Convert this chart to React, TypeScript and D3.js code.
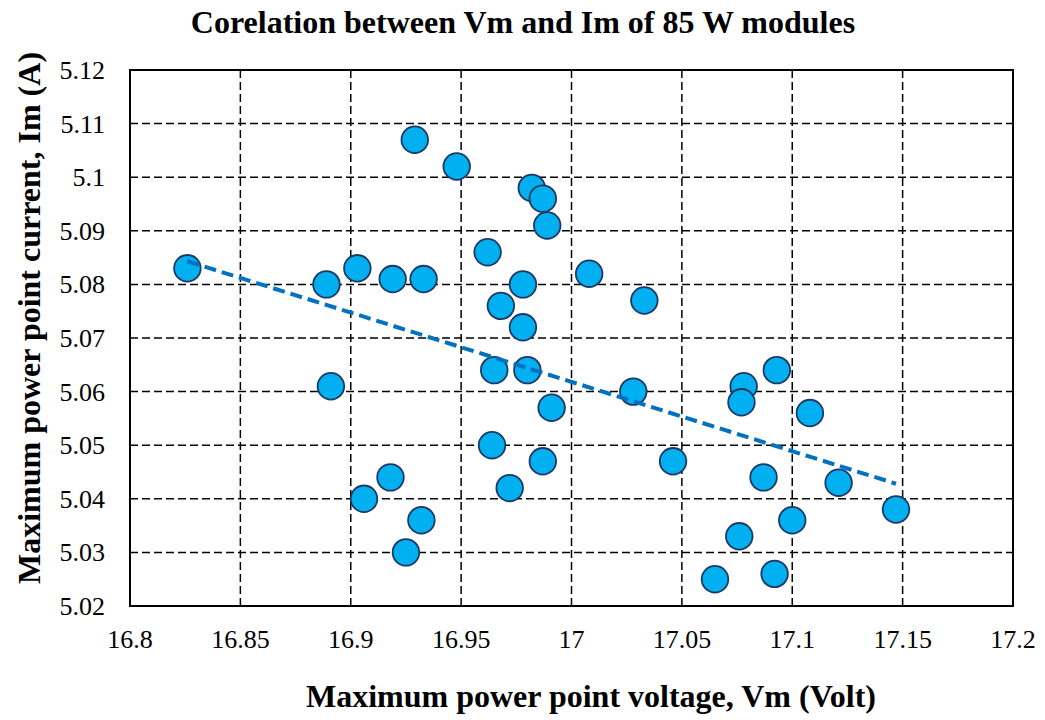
import React from "react";
import * as d3 from "d3";

// Maximum power point voltage (V) and current (A) for each module
const vm: number[] = [
  16.826, 16.889, 16.891, 16.903, 16.919, 16.933, 16.929, 16.948, 16.906, 16.918,
  16.932, 16.925, 16.962, 16.968, 16.978, 16.978, 16.965, 16.98, 16.982, 16.987,
  16.989, 16.991, 16.964, 16.972, 16.987, 17.008, 17.033, 17.028, 17.046, 17.078,
  17.077, 17.093, 17.108, 17.087, 17.121, 17.147, 17.1, 17.076, 17.065, 17.092,
];
const im: number[] = [
  5.083, 5.08, 5.061, 5.083, 5.081, 5.081, 5.107, 5.102, 5.04, 5.044,
  5.036, 5.03, 5.086, 5.076, 5.08, 5.072, 5.064, 5.064, 5.098, 5.096,
  5.091, 5.057, 5.05, 5.042, 5.047, 5.082, 5.077, 5.06, 5.047, 5.061,
  5.058, 5.064, 5.056, 5.044, 5.043, 5.038, 5.036, 5.033, 5.025, 5.026,
];
const xTicks: number[] = [16.8, 16.85, 16.9, 16.95, 17, 17.05, 17.1, 17.15, 17.2];
const yTicks: number[] = [5.02, 5.03, 5.04, 5.05, 5.06, 5.07, 5.08, 5.09, 5.1, 5.11, 5.12];

const W = 1045;
const H = 720;
const M = { left: 130, right: 1013, top: 70, bottom: 606 };
const FONT = "'Liberation Serif', 'Times New Roman', serif";

export default function App() {
  const x = d3.scaleLinear().domain([16.8, 17.2]).range([M.left, M.right]);
  const y = d3.scaleLinear().domain([5.02, 5.12]).range([M.bottom, M.top]);

  const pts = vm.map((v, i) => ({ v, i: im[i] }));

  // least-squares linear trend
  const mx = d3.mean(vm) as number;
  const my = d3.mean(im) as number;
  let sxy = 0;
  let sxx = 0;
  pts.forEach((p) => {
    sxy += (p.v - mx) * (p.i - my);
    sxx += (p.v - mx) * (p.v - mx);
  });
  const slope = sxy / sxx;
  const icpt = my - slope * mx;
  const [x0, x1] = d3.extent(vm) as [number, number];
  const trend = d3.line<number>()
    .x((d) => x(d))
    .y((d) => y(icpt + slope * d))([x0, x1]) as string;

  return (
    <svg
      width={W}
      height={H}
      style={{ position: "absolute", left: 0, top: 0, background: "#fff" }}
      fontFamily={FONT}
    >
      <text x={523} y={33} textAnchor="middle" fontSize={32} fontWeight="bold">
        Corelation between Vm and Im of 85 W modules
      </text>

      {/* grid */}
      {xTicks.slice(1, -1).map((t) => (
        <line key={"gx" + t} x1={x(t)} x2={x(t)} y1={M.top} y2={M.bottom}
          stroke="#000" strokeWidth={1.5} strokeDasharray="8 4" />
      ))}
      {yTicks.slice(1, -1).map((t) => (
        <line key={"gy" + t} x1={M.left} x2={M.right} y1={y(t)} y2={y(t)}
          stroke="#000" strokeWidth={1.5} strokeDasharray="8 4" />
      ))}

      {/* frame */}
      <rect x={M.left} y={M.top} width={M.right - M.left} height={M.bottom - M.top}
        fill="none" stroke="#000" strokeWidth={2} />

      {/* tick labels */}
      {xTicks.map((t) => (
        <text key={"tx" + t} x={x(t)} y={648} textAnchor="middle" fontSize={26}>
          {d3.format("")(t)}
        </text>
      ))}
      {yTicks.map((t) => (
        <text key={"ty" + t} x={105} y={y(t) + 9} textAnchor="end" fontSize={26}>
          {d3.format("")(t)}
        </text>
      ))}

      {/* points */}
      {pts.map((p, k) => (
        <circle key={k} cx={x(p.v)} cy={y(p.i)} r={13.3}
          fill="#00B0F0" stroke="#1F3864" strokeWidth={1.8} />
      ))}

      {/* trend line */}
      <path d={trend} fill="none" stroke="#0070C0" strokeWidth={4} strokeDasharray="12 6" />

      {/* axis titles */}
      <text x={591} y={707} textAnchor="middle" fontSize={32} fontWeight="bold">
        Maximum power point voltage, Vm (Volt)
      </text>
      <text transform={`translate(40,${318}) rotate(-90)`} textAnchor="middle"
        fontSize={32} fontWeight="bold">
        Maximum power point current, Im (A)
      </text>
    </svg>
  );
}
